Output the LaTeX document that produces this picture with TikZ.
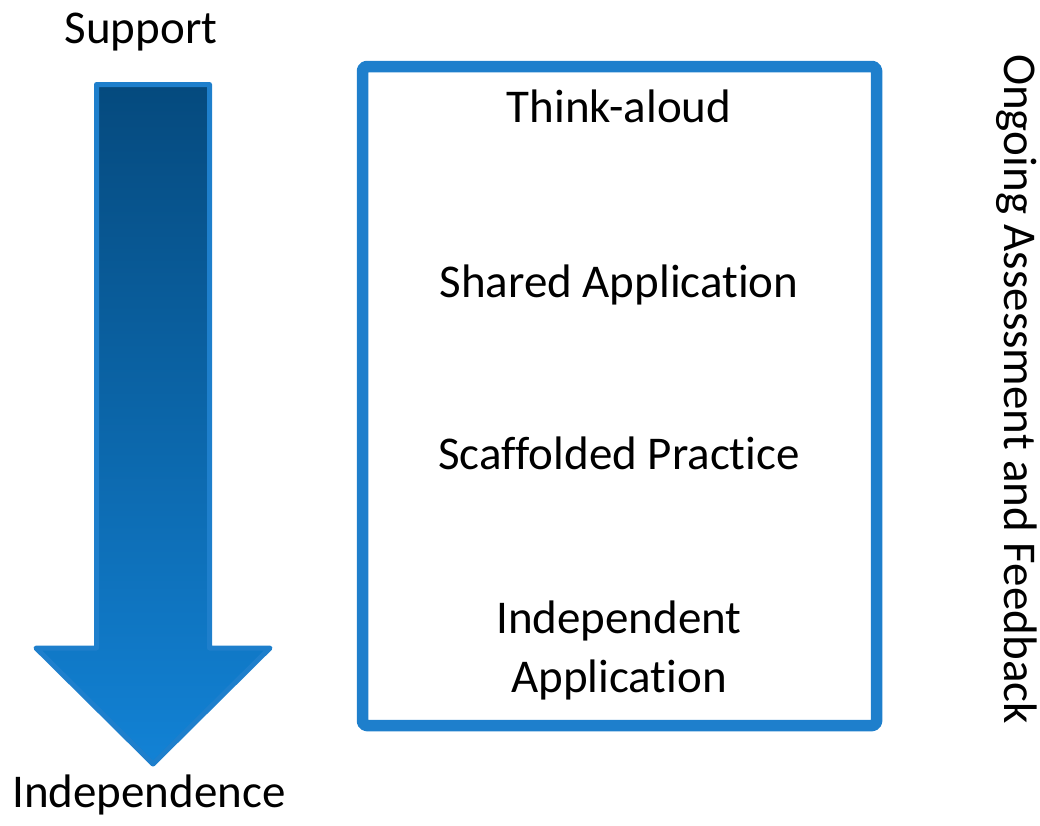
\documentclass[tikz,border=0pt]{standalone}
\usepackage{fontspec}
\setmainfont{Carlito}[RawFeature={-liga;-clig;-calt;-dlig}]
\definecolor{frameblue}{HTML}{1E7FCC}
\definecolor{shafttop}{HTML}{054A7E}
\definecolor{shaftbot}{HTML}{1282D5}

\begin{document}
\begin{tikzpicture}[x=1pt,y=-1pt,line join=round]
\tikzset{every node/.style={font=\fontsize{47}{59}\selectfont,align=center,anchor=base,inner sep=0pt}}
\useasboundingbox (0,0) rectangle (1040,825);
% big shaded arrow on the left
\shade[top color=shafttop,bottom color=shaftbot,draw=frameblue,line width=5pt]
  (96.5,84.5)--(209.5,84.5)--(209.5,648)--(270,648)--(153,764)--(36,648)--(96.5,648)--cycle;
\node (support) at (141,43) {Support};
\node (indep) at (149,807) {Independence};
% frame with the stages
\draw[frameblue,line width=11.5pt,rounded corners=4pt] (362.5,66.5) rectangle (876.5,725.5);
\node (think) at (619,122) {Think-aloud};
\node (shared) at (619,297) {Shared Application};
\node (scaff) at (619,469) {Scaffolded Practice};
\node (indapp) at (619,692) {Independent\\Application};
\node[rotate=-90] (assess) at (1004,389) {Ongoing Assessment and Feedback};
\end{tikzpicture}
\end{document}
